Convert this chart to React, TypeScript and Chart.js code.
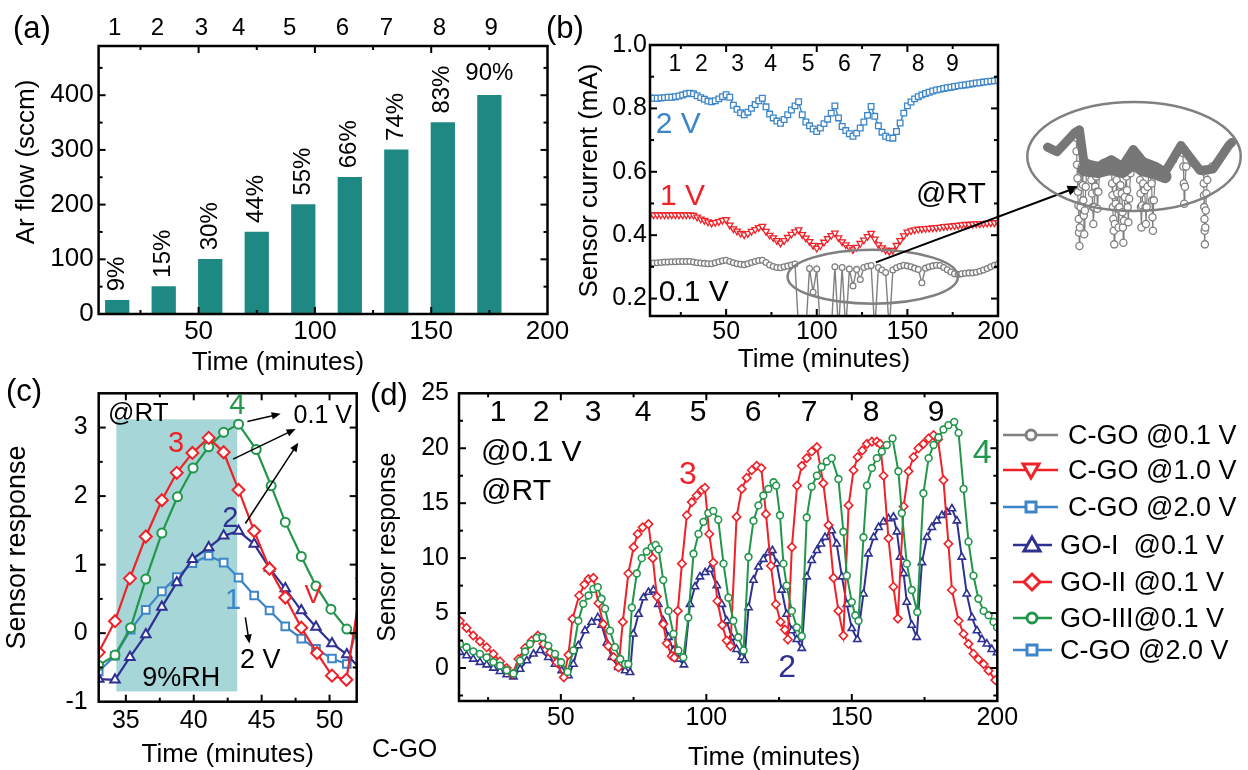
import React, { useEffect, useRef } from 'react';
import { Chart, registerables } from 'chart.js';

Chart.register(...registerables);

const FONT = '"Liberation Sans", Arial, Helvetica, sans-serif';
Chart.defaults.font.family = FONT;
Chart.defaults.color = '#000';

// ---------------- colours ----------------
const TEAL = '#1e8883';
const RED = '#ee2228';
const GREEN = '#22964a';
const NAVY = '#2e3192';
const BLUE = '#3c85c8';
const GRAY = '#808080';
const SHADE = '#a6d6d7';

// ---------------- panel (a) ----------------
const A_TIME = [15, 35, 55, 75, 95, 115, 135, 155, 175];
const A_FLOW = [25, 50, 100, 150, 200, 250, 300, 350, 400];
const A_RH = ['9%', '15%', '30%', '44%', '55%', '66%', '74%', '83%', '90%'];
const A_STEP_LABELS = ['1', '2', '3', '4', '5', '6', '7', '8', '9'];
const A_STEP_POS = [13.9, 32.3, 51.2, 67.2, 89.1, 111.8, 130.7, 153.5, 175.8];
const A_X_TICKS = [50, 100, 150, 200];
const A_Y_TICKS = [0, 100, 200, 300, 400];

// ---------------- panel (b) ----------------
const B_TIME = [8, 10, 12, 14, 16, 18, 20, 22, 24, 26, 28, 30, 32, 34, 36, 38, 40, 42, 44, 46, 48, 50, 52, 54, 56, 58, 60, 62, 64, 66, 68, 70, 72, 74, 76, 78, 80, 82, 84, 86, 88, 90, 92, 94, 96, 98, 100, 102, 104, 106, 108, 110, 112, 114, 116, 118, 120, 122, 124, 126, 128, 130, 132, 134, 136, 138, 140, 142, 144, 146, 148, 150, 152, 154, 156, 158, 160, 162, 164, 166, 168, 170, 172, 174, 176, 178, 180, 182, 184, 186, 188, 190, 192, 194, 196, 198, 200];
const B_2V = [0.833, 0.832, 0.832, 0.833, 0.834, 0.835, 0.835, 0.837, 0.839, 0.842, 0.846, 0.848,
  0.846, 0.840, 0.834, 0.829, 0.823, 0.821, 0.824, 0.830, 0.837, 0.843,
  0.835, 0.810, 0.797, 0.786, 0.780, 0.788, 0.800, 0.812, 0.824, 0.832,
  0.805, 0.782, 0.770, 0.760, 0.753, 0.765, 0.780, 0.795, 0.808, 0.821,
  0.780, 0.757, 0.745, 0.735, 0.727, 0.738, 0.752, 0.766, 0.785, 0.808,
  0.770, 0.743, 0.730, 0.720, 0.712, 0.722, 0.738, 0.757, 0.778, 0.806,
  0.775, 0.745, 0.725, 0.712, 0.707, 0.706, 0.727, 0.754, 0.785, 0.808,
  0.820, 0.830, 0.837, 0.842, 0.847, 0.851, 0.855, 0.858, 0.860, 0.863,
  0.865, 0.867, 0.869, 0.871, 0.873, 0.874, 0.876, 0.878, 0.880, 0.881,
  0.883, 0.884, 0.886, 0.887, 0.888];
const B_1V = [0.463, 0.464, 0.464, 0.464, 0.464, 0.464, 0.464, 0.464, 0.464, 0.464, 0.464, 0.464,
  0.463, 0.457, 0.451, 0.447, 0.442, 0.438, 0.440, 0.443, 0.447, 0.449,
  0.432, 0.420, 0.413, 0.406, 0.401, 0.405, 0.412, 0.418, 0.424, 0.428,
  0.412, 0.400, 0.392, 0.383, 0.375, 0.383, 0.393, 0.403, 0.411, 0.417,
  0.402, 0.391, 0.380, 0.368, 0.359, 0.367, 0.378, 0.389, 0.399, 0.407,
  0.392, 0.379, 0.370, 0.361, 0.354, 0.362, 0.374, 0.385, 0.396, 0.406,
  0.388, 0.370, 0.360, 0.353, 0.349, 0.352, 0.368, 0.383, 0.398, 0.410,
  0.414, 0.417, 0.419, 0.420, 0.421, 0.422, 0.423, 0.424, 0.425, 0.427,
  0.428, 0.429, 0.430, 0.431, 0.433, 0.434, 0.434, 0.435, 0.436, 0.436,
  0.437, 0.438, 0.439, 0.439, 0.440];
const B_01V = [0.312, 0.312, 0.313, 0.314, 0.315, 0.315, 0.316, 0.316, 0.317, 0.317, 0.317, 0.317,
  0.315, 0.313, 0.312, 0.311, 0.310, 0.310, 0.313, 0.316, 0.319, 0.321,
  0.317, 0.313, 0.310, 0.308, 0.307, 0.310, 0.314, 0.317, 0.320, 0.321,
  0.314, 0.306, 0.301, 0.298, 0.297, 0.300, 0.303, 0.306, 0.309, 0.10,
  0.10, 0.10, 0.295, 0.22, 0.293, 0.10, 0.10, 0.10, 0.10, 0.30,
  0.10, 0.298, 0.10, 0.293, 0.24, 0.292, 0.26, 0.298, 0.302, 0.304,
  0.10, 0.298, 0.290, 0.282, 0.10, 0.290, 0.297, 0.302, 0.305, 0.303,
  0.300, 0.296, 0.292, 0.25, 0.296, 0.300, 0.303, 0.305, 0.304, 0.298,
  0.291, 0.284, 0.278, 0.276, 0.278, 0.280, 0.281, 0.281, 0.283, 0.286,
  0.290, 0.295, 0.300, 0.305, 0.309];
const B_STEP_LABELS = ['1', '2', '3', '4', '5', '6', '7', '8', '9'];
const B_STEP_POS = [21.8, 36.4, 56.3, 74.5, 95.2, 115.3, 132.4, 155.9, 174.9];
const B_X_TICKS = [50, 100, 150, 200];
const B_Y_TICKS = [0.2, 0.4, 0.6, 0.8, 1.0];

// inset (zoom of the 0.1 V trace), arbitrary 0-100 units
const INSET_BAND_X = [10.2, 14.6, 22.7, 24.9, 27, 33.6, 39.5, 44.6, 49.7, 54.1, 60, 64.3, 71.6, 80.4, 86.3, 93.6, 95];
const INSET_BAND_Y = [69.4, 66.7, 77.8, 79.6, 60, 58, 62, 58, 68, 61, 58, 54.6, 70.4, 55.6, 56.5, 70.4, 72.2];
const INSET_MASS_X = [27, 33.6, 39.5, 44.6, 49.7, 54.1, 60, 64.3];
const INSET_MASS_Y = [56, 55, 57, 55, 60, 56, 54, 52];
const INSET_SPIKE_X = [23.5, 23.6, 23.8, 24.0, 24.2, 24.4, 24.6, 24.7, 24.9, 25.1, 25.4, 25.7, 26.0,
  26.3, 26.5, 26.7, 26.9, 27.1, 27.4, 27.8, 28.5,
  30.2, 30.4, 30.7, 31.0, 31.3, 31.7, 32.2, 32.6, 32.9, 33.2, 33.6, 34.2, 36.0,
  39.5, 39.7, 39.9, 40.1, 40.3, 40.5, 40.7, 40.9, 41.2, 41.6, 42.0, 42.3, 42.6, 42.9, 43.3, 43.8, 44.4, 44.7, 44.9, 45.1, 45.4, 45.8, 46.4, 46.8, 47.1, 47.4, 47.8, 48.4, 50.0,
  52.6, 52.8, 53.0, 53.2, 53.4, 53.7, 54.2, 54.9, 55.3, 55.5, 55.8, 56.2, 57.0, 58.1, 58.3, 58.5, 58.7, 59.1, 60.0,
  64.0, 68.0, 72.5, 72.7, 72.9, 73.1, 73.4, 74.0, 77.0, 80.5,
  82.0, 82.1, 82.2, 82.3, 82.4, 82.5, 82.6, 82.8, 83.0, 83.3, 83.7, 84.3, 86.0];
const INSET_SPIKE_Y = [75, 67, 59, 51, 43, 35, 27, 19, 11, 22, 34, 46, 58,
  56, 47, 38, 29, 18, 32, 46, 60,
  58, 50, 42, 34, 24, 34, 46, 52, 43, 33, 43, 55, 60,
  62, 55, 48, 41, 34, 27, 20, 12, 24, 36, 50, 42, 33, 22, 34, 47, 42, 31, 22, 13, 26, 40, 52, 44, 34, 25, 39, 54, 63,
  58, 50, 42, 34, 22, 35, 48, 44, 34, 24, 34, 46, 55, 48, 38, 28, 20, 38, 56,
  56, 62, 66, 58, 48, 36, 46, 58, 60, 56,
  55, 48, 41, 34, 27, 20, 12, 22, 32, 42, 50, 56, 58];

// ---------------- panel (c) ----------------
const C_GOII_T = [33.0, 34.2, 35.3, 36.47, 37.65, 38.75, 39.9, 41.1, 42.2, 43.3, 44.45, 45.58, 46.74, 47.92, 49.08, 50.18, 51.24, 52.4];
const C_GOII_V = [-0.28, 0.175, 0.8, 1.41, 1.94, 2.34, 2.63, 2.85, 2.64, 2.09, 1.49, 0.94, 0.52, 0.08, -0.29, -0.62, -0.68, 0.8];
const C_GOIII_T = [33.0, 34.2, 35.35, 36.47, 37.65, 38.8, 39.95, 41.1, 42.2, 43.3, 44.6, 45.7, 46.74, 47.92, 49.0, 50.1, 51.27, 52.4];
const C_GOIII_V = [-0.47, -0.32, 0.08, 0.79, 1.46, 1.99, 2.41, 2.72, 2.93, 3.05, 2.68, 2.15, 1.62, 1.12, 0.69, 0.35, 0.06, -0.15];
const C_GOI_T = [33.0, 34.2, 35.3, 36.47, 37.65, 38.75, 39.9, 41.1, 42.2, 43.3, 44.45, 45.58, 46.74, 47.92, 49.0, 50.18, 51.27, 52.4];
const C_GOI_V = [-0.67, -0.68, -0.35, -0.02, 0.38, 0.74, 1.08, 1.25, 1.42, 1.49, 1.30, 0.95, 0.65, 0.33, 0.09, -0.15, -0.31, -0.55];
const C_CGO2_T = [33.0, 34.2, 35.35, 36.47, 37.65, 38.75, 39.9, 41.1, 42.2, 43.3, 44.45, 45.58, 46.74, 47.92, 49.0, 50.18, 51.27, 52.4];
const C_CGO2_V = [-0.56, -0.33, 0.05, 0.34, 0.61, 0.82, 1.02, 1.13, 1.03, 0.81, 0.55, 0.33, 0.10, -0.08, -0.23, -0.37, -0.45, 0.35];
const C_X_TICKS = [35, 40, 45, 50];
const C_Y_TICKS = [-1, 0, 1, 2, 3];

// ---------------- panel (d) ----------------
const D_GOII_T = [15.3, 17.6, 19.9, 22.2, 24.5, 26.8, 29.1, 31.4, 33.4, 35.4,
  37.7, 40.0, 42.1, 44.0, 46.3, 48.6, 51.0, 52.6, 54.0, 56.3,
  58.1, 59.5, 61.2, 62.9, 64.6, 66.3, 68.1, 69.8, 71.3, 73.2,
  75.0, 76.4, 78.1, 80.1, 81.6, 83.0, 85.2, 86.4, 88.1, 89.0,
  90.2, 91.6, 93.3, 95.0, 96.7, 98.4, 99.5, 101.0, 102.4, 103.8,
  105.5, 107.0, 108.3, 110.4, 112.2, 113.9, 115.6, 117.3, 118.9, 120.5,
  122.2, 123.9, 125.5, 127.0, 128.0, 129.4, 131.2, 132.8, 134.5, 136.2,
  138.0, 140.2, 142.0, 143.7, 145.4, 147.1, 148.9, 150.6, 152.0, 153.6,
  155.2, 156.9, 158.6, 159.7, 160.9, 162.6, 164.3, 165.8, 167.8, 169.5,
  171.2, 172.9, 174.6, 176.4, 178.1, 179.6, 181.5, 183.2, 184.4, 186.7,
  188.4, 190.1, 191.8, 193.5, 195.3, 197.0, 199.3];
const D_GOII_V = [4.3, 3.65, 2.95, 2.43, 1.89, 1.28, 0.6, 0.0, -0.55, 0.82,
  1.82, 2.5, 2.95, 2.2, 1.43, 0.52, -0.85, 1.2, 4.47, 6.6,
  7.6, 8.1, 8.2, 5.9, 4.0, 2.0, 1.0, 0.05, 4.2, 8.6,
  11.0, 12.2, 12.8, 13.1, 10.0, 6.5, 4.0, 2.25, 1.1, 0.95,
  5.2, 9.5, 13.9, 15.1, 15.7, 16.2, 16.4, 12.2, 9.6, 6.1,
  3.9, 2.5, 2.0, 13.75, 16.3, 17.3, 18.0, 18.4, 18.2, 14.0,
  9.3, 5.8, 4.2, 3.5, 2.6, 11.0, 16.6, 18.4, 19.1, 19.7,
  20.1, 16.8, 13.0, 8.2, 5.2, 2.95, 14.8, 18.0, 19.2, 19.8,
  20.4, 20.6, 20.6, 20.4, 17.5, 11.8, 7.4, 4.5, 14.7, 17.9,
  19.2, 20.0, 20.4, 20.9, 21.2, 20.8, 17.1, 11.3, 7.1, 4.3,
  3.1, 2.2, 1.3, 0.8, 0.36, -0.24, -1.1];
const D_GOIII_T = [15.35, 17.6, 19.9, 22.2, 24.5, 26.8, 29.1, 31.4, 33.7, 36.0,
  37.7, 39.4, 41.7, 43.7, 45.7, 48.0, 50.1, 52.3, 54.3, 56.0,
  57.7, 59.5, 61.2, 62.7, 64.0, 65.2, 66.9, 68.6, 70.4, 72.1,
  73.2, 74.4, 76.1, 77.8, 79.5, 81.2, 82.6, 83.6, 85.2, 87.0,
  88.7, 90.4, 92.1, 93.8, 95.6, 97.3, 99.0, 100.7, 102.4, 104.1,
  105.9, 107.6, 109.3, 111.0, 112.8, 114.5, 116.2, 117.9, 119.6, 121.3,
  123.1, 124.0, 125.3, 126.5, 127.6, 129.4, 131.1, 132.8, 134.5, 136.2,
  138.0, 139.6, 141.4, 143.1, 145.4, 147.1, 148.3, 150.0, 151.2, 152.3,
  154.0, 155.2, 156.9, 158.6, 160.3, 162.0, 164.0, 166.0, 167.2, 168.9,
  170.6, 172.5, 174.6, 176.4, 178.1, 179.8, 181.5, 183.2, 185.2, 186.7,
  188.4, 190.1, 191.8, 193.5, 195.3, 197.0, 198.7, 199.9];
const D_GOIII_V = [2.19, 1.89, 1.52, 1.28, 0.97, 0.55, 0.21, -0.2, -0.5, 0.67,
  1.5, 2.19, 2.74, 2.8, 2.04, 1.28, 0.52, -0.35, 1.6, 4.3,
  5.84, 6.6, 7.2, 7.36, 6.3, 5.4, 3.4, 1.9, 0.82, 0.36,
  0.36, 5.5, 8.6, 10.0, 10.6, 11.0, 11.2, 10.8, 8.0, 5.2,
  3.1, 1.6, 0.97, 4.6, 10.4, 12.2, 13.3, 14.1, 14.3, 13.5,
  9.5, 6.4, 4.3, 2.8, 1.6, 10.1, 13.4, 14.8, 15.7, 16.3,
  16.9, 16.6, 13.9, 9.5, 7.5, 5.2, 3.7, 2.9, 13.7, 16.5,
  17.5, 18.3, 18.8, 19.1, 17.2, 12.4, 8.4, 6.0, 4.8, 4.3,
  11.9, 16.6, 18.2, 19.1, 19.7, 20.3, 20.9, 17.9, 14.1, 9.5,
  7.1, 5.1, 15.9, 19.1, 20.3, 21.0, 21.7, 22.1, 22.4, 21.4,
  16.3, 11.5, 8.4, 6.3, 5.2, 4.8, 4.2, 3.7];
const D_GOI_T = [15.35, 17.6, 19.9, 22.2, 24.5, 26.8, 29.1, 31.4, 33.7, 36.0,
  38.3, 40.6, 42.9, 45.7, 48.0, 50.3, 52.6, 54.3, 56.0, 58.3,
  60.6, 62.7, 64.0, 65.8, 67.5, 69.8, 72.1, 73.8, 74.9, 76.7,
  78.4, 80.1, 81.8, 83.5, 85.2, 87.0, 88.7, 90.4, 92.3, 94.4,
  96.1, 97.8, 99.6, 101.3, 103.6, 105.3, 107.0, 108.7, 110.4, 112.2,
  113.1, 114.5, 116.2, 117.9, 119.6, 121.3, 122.7, 124.2, 125.9, 127.6,
  129.4, 131.1, 132.8, 134.5, 136.2, 138.0, 139.4, 140.8, 143.1, 144.8,
  146.6, 148.3, 150.0, 151.9, 154.0, 155.7, 157.5, 159.2, 160.9, 162.6,
  164.3, 165.5, 166.6, 167.8, 168.9, 170.6, 172.3, 174.1, 175.8, 177.5,
  179.2, 181.0, 182.7, 184.4, 186.1, 187.8, 189.5, 191.3, 193.0, 194.7,
  196.4, 198.1, 199.9];
const D_GOI_V = [1.43, 1.13, 0.82, 0.52, 0.3, 0.0, -0.3, -0.6, -0.8, -0.1,
  0.67, 1.28, 1.6, 0.97, 0.36, -0.24, -0.7, 0.36, 2.04, 3.4,
  4.17, 4.6, 3.9, 2.3, 0.97, 0.06, -0.24, -0.4, 3.1, 4.9,
  6.4, 6.9, 7.1, 5.8, 4.3, 2.8, 1.6, 0.82, 0.3, 5.8,
  7.4, 8.3, 8.7, 9.0, 7.5, 5.8, 4.3, 2.8, 1.7, 1.0,
  0.7, 5.5, 8.0, 9.2, 9.9, 10.5, 10.7, 9.5, 7.1, 4.9,
  3.4, 2.6, 1.8, 8.3, 9.8, 10.7, 11.3, 11.9, 12.5, 11.3,
  8.3, 5.8, 3.6, 2.6, 6.75, 10.4, 11.9, 12.8, 13.3, 13.6,
  13.75, 12.4, 10.1, 8.6, 6.0, 3.9, 2.8, 9.6, 11.9, 12.8,
  13.4, 13.9, 14.2, 14.5, 13.4, 10.1, 6.75, 4.6, 3.4, 2.6,
  2.2, 1.7, 1.4];
const D_STEP_LABELS = ['1', '2', '3', '4', '5', '6', '7', '8', '9'];
const D_STEP_POS = [28.4, 43.2, 61.1, 78.3, 97.2, 116.1, 135.3, 156.6, 179.0];
const D_X_TICKS = [50, 100, 150, 200];
const D_Y_TICKS = [0, 5, 10, 15, 20, 25];

// ---------------- legend ----------------
const LEGEND_LABELS = ['C-GO @0.1 V', 'C-GO @1.0 V', 'C-GO @2.0 V', 'GO-I  @0.1 V', 'GO-II @0.1 V', 'GO-III@0.1 V', 'C-GO @2.0 V'];
const LEGEND_COLORS = [GRAY, RED, BLUE, NAVY, RED, GREEN, BLUE];
const LEGEND_SHAPES = ['circle', 'triangleDown', 'square', 'triangle', 'diamond', 'circle', 'square'];

// ---------------- helpers ----------------
const pts = (xs: number[], ys: number[]) => xs.map((x, i) => ({ x, y: ys[i] }));

function axis(o: any) {
  return {
    type: 'linear',
    position: o.position,
    min: o.min,
    max: o.max,
    offset: false,
    grid: { display: false, drawTicks: false },
    border: { display: false },
    ticks: {
      autoSkip: false,
      maxRotation: 0,
      minRotation: 0,
      padding: o.pad,
      color: '#000',
      font: { size: o.size, family: FONT },
      callback: (v: any, i: number) => (o.fmt ? o.fmt(v, i) : String(v)),
    },
    afterBuildTicks: (s: any) => {
      s.ticks = o.ticks.map((v: number) => ({ value: v }));
    },
    afterFit: (s: any) => {
      if (s.isHorizontal()) s.height = o.fit;
      else s.width = o.fit;
      s.paddingLeft = 0;
      s.paddingRight = 0;
      s.paddingTop = 0;
      s.paddingBottom = 0;
    },
    title: o.title || { display: false },
  };
}

function tickMarks(s: any) {
  const major = s.ticks.map((t: any) => t.value);
  const step = major.length > 1 ? major[1] - major[0] : 1;
  const out: number[][] = major.map((v: number) => [v, 7]);
  let m = major[0] - step / 2;
  while (m - step >= s.min) m -= step;
  for (let k = 0; k < 60; k++) {
    const v = m + k * step;
    if (v > s.max + 1e-9) break;
    if (v >= s.min - 1e-9) out.push([v, 4]);
  }
  return out;
}

function makeFrame(lw: number) {
  return {
    id: 'frame',
    afterDraw(chart: any) {
      const { ctx, chartArea: a } = chart;
      const xs = chart.scales.x;
      const ys = chart.scales.y;
      ctx.save();
      ctx.strokeStyle = '#000';
      ctx.lineWidth = 2;
      const seg = (x1: number, y1: number, x2: number, y2: number) => {
        ctx.beginPath();
        ctx.moveTo(x1, y1);
        ctx.lineTo(x2, y2);
        ctx.stroke();
      };
      for (const [v, len] of tickMarks(xs)) {
        const p = xs.getPixelForValue(v);
        if (p < a.left + 1 || p > a.right - 1) continue;
        seg(p, a.bottom, p, a.bottom - len);
        seg(p, a.top, p, a.top + len);
      }
      for (const [v, len] of tickMarks(ys)) {
        const p = ys.getPixelForValue(v);
        if (p < a.top + 1 || p > a.bottom - 1) continue;
        seg(a.left, p, a.left + len, p);
        seg(a.right, p, a.right - len, p);
      }
      ctx.lineWidth = lw;
      ctx.strokeRect(a.left, a.top, a.right - a.left, a.bottom - a.top);
      ctx.restore();
    },
  };
}

function drawItems(chart: any, items: any[]) {
  const { ctx } = chart;
  const xs = chart.scales.x;
  const ys = chart.scales.y;
  const px = (v: number) => xs.getPixelForValue(v);
  const py = (v: number) => ys.getPixelForValue(v);
  for (const it of items) {
    ctx.save();
    if (it.k === 'rect') {
      const x1 = px(it.x1), x2 = px(it.x2), y1 = py(it.y1), y2 = py(it.y2);
      ctx.fillStyle = it.fill;
      ctx.fillRect(Math.min(x1, x2), Math.min(y1, y2), Math.abs(x2 - x1), Math.abs(y2 - y1));
    } else if (it.k === 'text') {
      ctx.font = `${it.size}px ${FONT}`;
      ctx.fillStyle = it.color || '#000';
      ctx.textAlign = it.align || 'center';
      ctx.textBaseline = 'middle';
      ctx.translate(px(it.x), py(it.y));
      if (it.rot) ctx.rotate((it.rot * Math.PI) / 180);
      ctx.fillText(it.text, 0, 0);
    } else if (it.k === 'arrow') {
      const x1 = px(it.x1), y1 = py(it.y1), x2 = px(it.x2), y2 = py(it.y2);
      const ang = Math.atan2(y2 - y1, x2 - x1);
      const hl = it.head || 10;
      const hw = hl * 0.42;
      const c = Math.cos(ang), s = Math.sin(ang);
      ctx.strokeStyle = it.color || '#000';
      ctx.fillStyle = it.color || '#000';
      ctx.lineWidth = it.w || 1.5;
      ctx.beginPath();
      ctx.moveTo(x1, y1);
      ctx.lineTo(x2 - c * hl * 0.8, y2 - s * hl * 0.8);
      ctx.stroke();
      ctx.beginPath();
      ctx.moveTo(x2, y2);
      ctx.lineTo(x2 - hl * c + hw * s, y2 - hl * s - hw * c);
      ctx.lineTo(x2 - hl * c - hw * s, y2 - hl * s + hw * c);
      ctx.closePath();
      ctx.fill();
    } else if (it.k === 'ellipse') {
      const cx = px(it.x), cy = py(it.y);
      const rx = Math.abs(px(it.x + it.rx) - cx);
      const ry = Math.abs(py(it.y + it.ry) - cy);
      ctx.strokeStyle = it.color;
      ctx.lineWidth = it.w;
      ctx.beginPath();
      ctx.ellipse(cx, cy, rx, ry, 0, 0, Math.PI * 2);
      ctx.stroke();
    }
    ctx.restore();
  }
}

function makeNotes(items: any[], under: any[]) {
  return {
    id: 'notes',
    beforeDatasetsDraw(chart: any) {
      drawItems(chart, under);
    },
    afterDraw(chart: any) {
      drawItems(chart, items);
    },
  };
}

const BASE = {
  responsive: false,
  maintainAspectRatio: false,
  animation: false,
  events: [],
  plugins: { legend: { display: false }, tooltip: { enabled: false } },
};

const stepTexts = (labels: string[], pos: number[], y: number, size: number) =>
  labels.map((t, i) => ({ k: 'text', text: t, x: pos[i], y, size }));

// ---------------- configs ----------------
function configA(): any {
  const barLabels = {
    id: 'barLabels',
    afterDatasetsDraw(chart: any) {
      const { ctx } = chart;
      const meta = chart.getDatasetMeta(0);
      ctx.save();
      ctx.font = `24px ${FONT}`;
      ctx.fillStyle = '#000';
      meta.data.forEach((el: any, i: number) => {
        const last = i === meta.data.length - 1;
        if (last) {
          ctx.textAlign = 'center';
          ctx.textBaseline = 'bottom';
          ctx.fillText(A_RH[i], el.x, el.y - 10);
        } else {
          ctx.save();
          ctx.translate(el.x, el.y - 9);
          ctx.rotate(-Math.PI / 2);
          ctx.textAlign = 'left';
          ctx.textBaseline = 'middle';
          ctx.fillText(A_RH[i], 0, 0);
          ctx.restore();
        }
      });
      ctx.restore();
    },
  };
  return {
    type: 'bar',
    data: {
      datasets: [{ data: pts(A_TIME, A_FLOW), backgroundColor: TEAL, borderWidth: 0, barThickness: 23.6 }],
    },
    options: {
      ...BASE,
      layout: { padding: { left: 0, right: 52.5, top: 0, bottom: 0 } },
      scales: {
        x: axis({ min: 7, max: 200, ticks: A_X_TICKS, size: 26, pad: 2, fit: 66 }),
        x2: axis({ min: 7, max: 200, ticks: A_STEP_POS, size: 24, pad: 3.6, fit: 46, position: 'top', fmt: (_v: any, i: number) => A_STEP_LABELS[i] }),
        y: axis({ min: 0, max: 490, ticks: A_Y_TICKS, size: 26, pad: 5, fit: 98.6 }),
      },
    },
    plugins: [
      barLabels,
      makeFrame(2.5),
      makeNotes(
        [
          { k: 'text', text: 'Time (minutes)', x: 84.1, y: -89.5, size: 26 },
          { k: 'text', text: 'Ar flow (sccm)', x: -23.8, y: 278, size: 26, rot: -90 },
        ],
        []
      ),
    ],
  };
}

function configB(): any {
  const line = (data: any, color: string, style: string, r: number, rot = 0) => ({
    data,
    borderColor: color,
    borderWidth: 1.4,
    pointStyle: style,
    pointRadius: r,
    pointRotation: rot,
    pointBorderWidth: 1.3,
    pointBorderColor: color,
    pointBackgroundColor: '#fff',
    tension: 0,
  });
  return {
    type: 'line',
    data: {
      datasets: [
        line(pts(B_TIME, B_2V), BLUE, 'rect', 4),
        line(pts(B_TIME, B_1V), RED, 'triangle', 3.8, 180),
        line(pts(B_TIME, B_01V), GRAY, 'circle', 2.9),
      ],
    },
    options: {
      ...BASE,
      layout: { padding: { left: 0, right: 250, top: 45, bottom: 0 } },
      scales: {
        x: axis({
          min: 8, max: 200, ticks: B_X_TICKS, size: 25, pad: 1, fit: 64,
          title: { display: true, text: 'Time (minutes)', color: '#000', font: { size: 26, family: FONT }, padding: { top: 0, bottom: 5 } },
        }),
        y: axis({
          min: 0.145, max: 1.0, ticks: B_Y_TICKS, size: 25, pad: 3, fit: 90,
          fmt: (v: number) => Number(v).toFixed(1),
          title: { display: true, text: 'Sensor current (mA)', color: '#000', font: { size: 26, family: FONT }, padding: { top: 14.4, bottom: 0 } },
        }),
      },
    },
    plugins: [
      makeFrame(2.5),
      makeNotes(
        [
          ...stepTexts(B_STEP_LABELS, B_STEP_POS, 0.937, 23),
          { k: 'text', text: '2 V', x: 11.2, y: 0.748, size: 30, color: BLUE, align: 'left' },
          { k: 'text', text: '1 V', x: 13.5, y: 0.521, size: 30, color: RED, align: 'left' },
          { k: 'text', text: '@RT', x: 154.7, y: 0.528, size: 30, align: 'left' },
          { k: 'text', text: '0.1 V', x: 12.8, y: 0.219, size: 30, align: 'left' },
          { k: 'ellipse', x: 130.9, y: 0.269, rx: 47, ry: 0.085, color: GRAY, w: 2.5 },
          { k: 'arrow', x1: 132.6, y1: 0.314, x2: 245, y2: 0.554, w: 2, head: 12 },
        ],
        []
      ),
    ],
  };
}

function configInset(): any {
  return {
    type: 'line',
    data: {
      datasets: [
        {
          data: pts(INSET_BAND_X, INSET_BAND_Y),
          borderColor: '#777777',
          borderWidth: 9,
          borderJoinStyle: 'round',
          borderCapStyle: 'round',
          pointRadius: 0,
          tension: 0,
        },
        {
          data: pts(INSET_MASS_X, INSET_MASS_Y),
          borderColor: '#777777',
          borderWidth: 13,
          borderJoinStyle: 'round',
          borderCapStyle: 'round',
          pointRadius: 0,
          tension: 0,
        },
        {
          data: pts(INSET_SPIKE_X, INSET_SPIKE_Y),
          borderColor: GRAY,
          borderWidth: 1.2,
          pointStyle: 'circle',
          pointRadius: 3.6,
          pointBorderWidth: 1.3,
          pointBorderColor: GRAY,
          pointBackgroundColor: '#fff',
          tension: 0,
        },
      ],
    },
    options: {
      ...BASE,
      layout: { padding: 0 },
      scales: {
        x: { type: 'linear', display: false, min: 0, max: 100 },
        y: { type: 'linear', display: false, min: 0, max: 100 },
      },
    },
    plugins: [makeNotes([{ k: 'ellipse', x: 50, y: 63.9, rx: 49.1, ry: 32.2, color: GRAY, w: 2.5 }], [])],
  };
}

function configC(): any {
  const line = (data: any, color: string, style: string, r: number) => ({
    data,
    borderColor: color,
    borderWidth: 2.2,
    pointStyle: style,
    pointRadius: r,
    pointBorderWidth: 2,
    pointBorderColor: color,
    pointBackgroundColor: '#fff',
    tension: 0,
  });
  return {
    type: 'line',
    data: {
      datasets: [
        line(pts(C_GOII_T, C_GOII_V), RED, 'rectRot', 6),
        line(pts(C_GOIII_T, C_GOIII_V), GREEN, 'circle', 4.5),
        line(pts(C_GOI_T, C_GOI_V), NAVY, 'triangle', 5.5),
        line(pts(C_CGO2_T, C_CGO2_V), BLUE, 'rect', 5.4),
      ],
    },
    options: {
      ...BASE,
      layout: { padding: { left: 0, right: 23.3, top: 13.3, bottom: 0 } },
      scales: {
        x: axis({
          min: 33, max: 52, ticks: C_X_TICKS, size: 25, pad: 4, fit: 68.3,
          title: { display: true, text: 'Time (minutes)', color: '#000', font: { size: 26, family: FONT }, padding: { top: 0, bottom: 0 } },
        }),
        y: axis({
          min: -1, max: 3.5, ticks: C_Y_TICKS, size: 25, pad: 11, fit: 98.7,
          title: { display: true, text: 'Sensor response', color: '#000', font: { size: 27, family: FONT }, padding: { top: 1.8, bottom: 0 } },
        }),
      },
    },
    plugins: [
      makeFrame(2.5),
      makeNotes(
        [
          { k: 'text', text: '@RT', x: 33.69, y: 3.2, size: 26, align: 'left' },
          { k: 'text', text: '3', x: 38.7, y: 2.76, size: 29, color: RED },
          { k: 'text', text: '4', x: 43.2, y: 3.31, size: 29, color: GREEN },
          { k: 'text', text: '2', x: 42.7, y: 1.67, size: 29, color: NAVY },
          { k: 'text', text: '1', x: 42.9, y: 0.475, size: 29, color: BLUE },
          { k: 'text', text: 'V', x: 48.8, y: 0.55, size: 26, color: RED },
          { k: 'text', text: '0.1 V', x: 47.35, y: 3.17, size: 25, align: 'left' },
          { k: 'text', text: '2 V', x: 43.4, y: -0.4, size: 27, align: 'left' },
          { k: 'text', text: '9%RH', x: 36.2, y: -0.66, size: 27, align: 'left' },
          { k: 'arrow', x1: 43.95, y1: 3.09, x2: 46.4, y2: 3.2, w: 1.5, head: 9 },
          { k: 'arrow', x1: 42.9, y1: 2.54, x2: 47.5, y2: 2.98, w: 1.5, head: 9 },
          { k: 'arrow', x1: 43.8, y1: 1.6, x2: 47.7, y2: 2.78, w: 1.5, head: 9 },
          { k: 'arrow', x1: 43.8, y1: 0.23, x2: 44.1, y2: -0.15, w: 1.5, head: 9 },
        ],
        [{ k: 'rect', x1: 34.3, y1: -0.85, x2: 43.2, y2: 3.12, fill: SHADE }]
      ),
    ],
  };
}

function configD(): any {
  const line = (data: any, color: string, style: string, r: number) => ({
    data,
    borderColor: color,
    borderWidth: 2,
    pointStyle: style,
    pointRadius: r,
    pointBorderWidth: 1.6,
    pointBorderColor: color,
    pointBackgroundColor: '#fff',
    tension: 0,
  });
  return {
    type: 'line',
    data: {
      datasets: [
        line(pts(D_GOIII_T, D_GOIII_V), GREEN, 'circle', 3.4),
        line(pts(D_GOII_T, D_GOII_V), RED, 'rectRot', 4.2),
        line(pts(D_GOI_T, D_GOI_V), NAVY, 'triangle', 4.2),
      ],
    },
    options: {
      ...BASE,
      layout: { padding: { left: 0, right: 32.7, top: 13.3, bottom: 0 } },
      scales: {
        x: axis({ min: 15, max: 200, ticks: D_X_TICKS, size: 25, pad: 2.3, fit: 69 }),
        y: axis({
          min: -3, max: 25, ticks: D_Y_TICKS, size: 25, pad: 10, fit: 89,
          title: { display: true, text: 'Sensor response', color: '#000', font: { size: 25, family: FONT }, padding: { top: 3, bottom: 0 } },
        }),
      },
    },
    plugins: [
      makeFrame(2.5),
      makeNotes(
        [
          ...stepTexts(D_STEP_LABELS, D_STEP_POS, 23.2, 30),
          { k: 'text', text: '@0.1 V', x: 22.6, y: 19.55, size: 30, align: 'left' },
          { k: 'text', text: '@RT', x: 22.6, y: 16.0, size: 30, align: 'left' },
          { k: 'text', text: '3', x: 93.7, y: 17.55, size: 32, color: RED },
          { k: 'text', text: '4', x: 194.8, y: 19.55, size: 34, color: GREEN },
          { k: 'text', text: '2', x: 127.8, y: 0.03, size: 32, color: NAVY },
          { k: 'text', text: 'Time (minutes)', x: 123.3, y: -8.2, size: 26 },
        ],
        []
      ),
    ],
  };
}

// ---------------- components ----------------
function ChartBox({ left, top, width, height, make }: any) {
  const ref = useRef<HTMLCanvasElement>(null);
  useEffect(() => {
    const chart = new Chart(ref.current as HTMLCanvasElement, make());
    return () => chart.destroy();
  }, []);
  return (
    <canvas
      ref={ref}
      width={width}
      height={height}
      style={{ position: 'absolute', left, top, width, height }}
    />
  );
}

function Marker({ shape, color, cx, cy }: any) {
  const common = { fill: '#fff', stroke: color, strokeWidth: 3 };
  if (shape === 'circle') return <circle cx={cx} cy={cy} r={5} {...common} />;
  if (shape === 'square') return <rect x={cx - 5} y={cy - 5} width={10} height={10} {...common} />;
  if (shape === 'triangle')
    return <polygon points={`${cx - 8},${cy + 6} ${cx + 8},${cy + 6} ${cx},${cy - 8}`} {...common} />;
  if (shape === 'triangleDown')
    return <polygon points={`${cx - 8},${cy - 6} ${cx + 8},${cy - 6} ${cx},${cy + 8}`} {...common} />;
  return <polygon points={`${cx - 8},${cy} ${cx},${cy - 8} ${cx + 8},${cy} ${cx},${cy + 8}`} {...common} />;
}

function Legend() {
  const rowY = [435, 470, 507, 545, 582, 618, 650];
  return (
    <>
      {LEGEND_LABELS.map((label, i) => {
        const wide = i < 3;
        const y = rowY[i];
        const x1 = wide ? 3 : 13;
        const x2 = wide ? 58 : 52;
        const cx = wide ? 31 : 32;
        return (
          <React.Fragment key={i}>
            <svg
              width={62}
              height={30}
              style={{ position: 'absolute', left: 1000, top: y - 15 }}
            >
              <line x1={x1} y1={15} x2={x2} y2={15} stroke={LEGEND_COLORS[i]} strokeWidth={2.5} />
              <Marker shape={LEGEND_SHAPES[i]} color={LEGEND_COLORS[i]} cx={cx} cy={15} />
            </svg>
            <div
              style={{
                position: 'absolute',
                left: wide ? 1068 : 1060,
                top: y - 17,
                height: 34,
                lineHeight: '34px',
                fontSize: 27,
                whiteSpace: 'pre',
                color: '#000',
              }}
            >
              {label}
            </div>
          </React.Fragment>
        );
      })}
    </>
  );
}

function Label({ text, left, cy, size }: any) {
  return (
    <div
      style={{
        position: 'absolute',
        left,
        top: cy - size * 0.6,
        height: size * 1.2,
        lineHeight: `${size * 1.2}px`,
        fontSize: size,
        whiteSpace: 'pre',
        color: '#000',
      }}
    >
      {text}
    </div>
  );
}

export default function App() {
  return (
    <div
      style={{
        position: 'fixed',
        left: 0,
        top: 0,
        width: 1248,
        height: 770,
        background: '#fff',
        overflow: 'hidden',
        fontFamily: FONT,
      }}
    >
      <ChartBox left={0} top={0} width={600} height={380} make={configA} />
      <ChartBox left={560} top={0} width={688} height={380} make={configB} />
      <ChartBox left={1020} top={90} width={228} height={180} make={configInset} />
      <ChartBox left={0} top={380} width={380} height={390} make={configC} />
      <ChartBox left={370} top={380} width={660} height={390} make={configD} />
      <Legend />
      <Label text="(a)" left={13} cy={28} size={31} />
      <Label text="(b)" left={546} cy={28} size={31} />
      <Label text="(c)" left={6} cy={391} size={31} />
      <Label text="(d)" left={370} cy={395} size={31} />
      <Label text="C-GO" left={372} cy={748} size={25} />
    </div>
  );
}
